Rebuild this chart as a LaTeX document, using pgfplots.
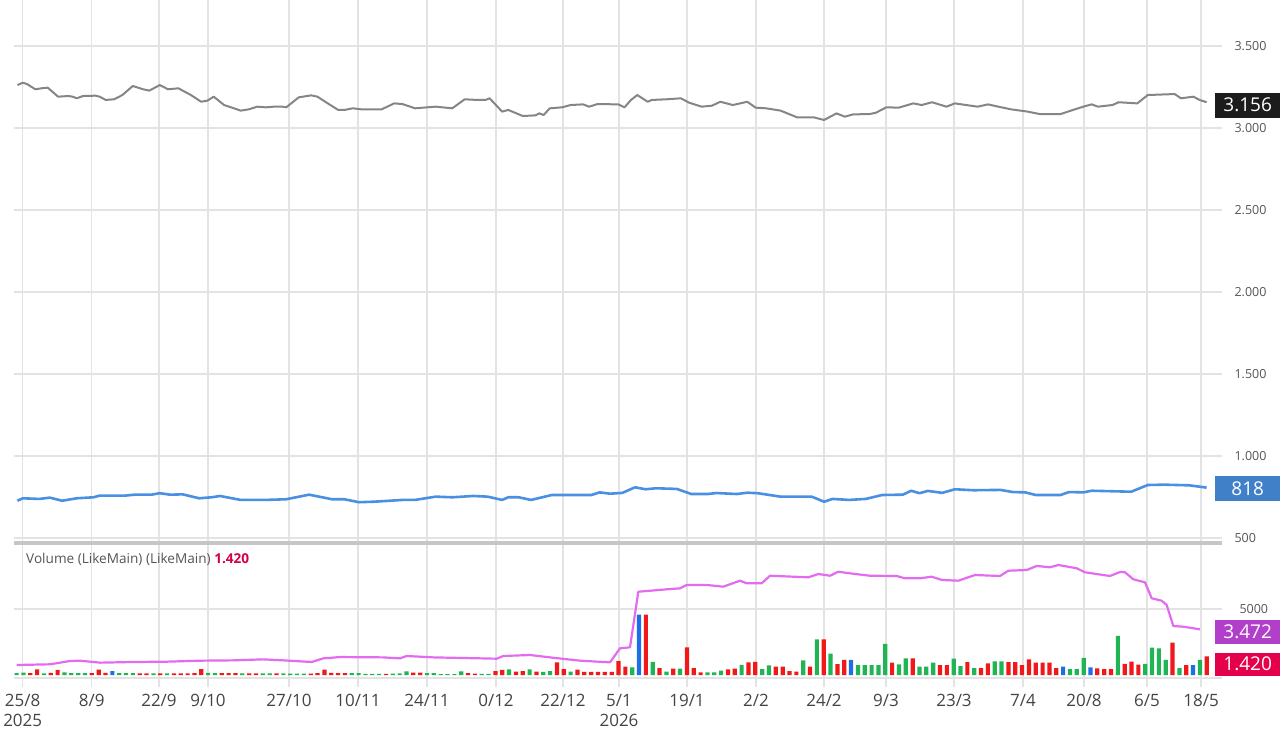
\documentclass[border=0pt]{standalone}
\usepackage{pgfplots}
\pgfplotsset{compat=1.18}
\usepackage{pgfplotstable}
\usepackage{fontspec}
\setmainfont{Open Sans}
\definecolor{gridc}{HTML}{E3E3E3}
\definecolor{sepc}{HTML}{C6C6C6}
\definecolor{pricegray}{HTML}{858585}
\definecolor{lineblue}{HTML}{4A90E2}
\definecolor{volpink}{HTML}{E36BF0}
\definecolor{vgreen}{HTML}{20B455}
\definecolor{vred}{HTML}{F01818}
\definecolor{vblue}{HTML}{1E6FE6}
\definecolor{boxblack}{HTML}{1C1C1C}
\definecolor{boxblue}{HTML}{3F80C8}
\definecolor{boxpurple}{HTML}{B13FC9}
\definecolor{boxred}{HTML}{E5004B}
\definecolor{labelred}{HTML}{D4004A}
\definecolor{tickc}{HTML}{555555}
\definecolor{xtc}{HTML}{444444}

\pgfplotstableread{
x v
17.4 3262
22.8 3276
27 3268
35.3 3236
41.5 3242
47.7 3246
58.1 3191
68.5 3195
72.6 3191
76.8 3181
83 3195
95.4 3197
99.6 3191
105.8 3171
114.1 3175
122.4 3201
132.8 3256
143.2 3236
149.4 3228
159.8 3262
168 3236
178.4 3242
190.9 3201
201.2 3160
207.5 3167
213.7 3191
224.1 3140
240.7 3106
249 3114
257.3 3130
265.6 3126
273.9 3130
282.2 3130
286.3 3126
298.8 3187
311.2 3199
317.4 3191
327.8 3150
338.2 3110
344.4 3110
352.7 3120
361 3114
381.7 3114
394.2 3150
402.5 3146
415 3120
435.7 3130
452.3 3120
464.7 3175
477.2 3171
485.5 3171
489.6 3181
502.1 3100
508.3 3110
522.8 3073
535.3 3077
539.4 3089
543.6 3079
549.8 3120
562.2 3126
570.5 3140
583 3144
589.2 3130
597.5 3146
618.3 3144
624.5 3126
631 3171
637.3 3201
647.7 3160
651.9 3171
666.4 3175
680.9 3181
689.2 3154
701.7 3130
712 3136
720.3 3160
732.8 3140
747.3 3160
755.6 3124
766 3120
780.5 3106
797.1 3065
813.7 3065
824.1 3049
836.5 3089
844.8 3069
853.1 3083
869.7 3085
875.9 3093
886.3 3126
898.8 3124
913.3 3150
921.6 3140
932 3157
946.5 3130
954.8 3150
977.6 3130
988 3144
998.3 3130
1010.8 3114
1027.4 3100
1039.8 3085
1060.6 3085
1073 3110
1085.5 3134
1091.7 3144
1097.9 3130
1112.4 3140
1118.7 3157
1137.3 3150
1147.7 3201
1174.7 3207
1180.9 3181
1193.4 3191
1199.6 3171
1206.6 3157
}\pricegray

\pgfplotstableread{
x v
17.4 727
22.8 742
39.4 738
49.8 746
62.2 727
76.8 742
93.4 748
99.6 758
124.5 758
134.9 764
151.5 764
159.8 773
170.1 764
182.6 766
199.2 742
211.6 748
219.9 756
240.7 732
265.6 732
286.3 736
309.1 764
332 736
344.4 736
358.9 718
373.4 721
390 727
402.5 732
415 732
435.7 752
452.3 748
473 756
487.6 752
502.1 732
508.3 748
518.7 748
531.1 732
551.9 762
568.5 762
591.3 762
599.6 778
610 770
622.4 775
635 809
645.6 797
656 803
676.8 799
691.3 768
707.9 768
716.2 774
736.9 768
747.3 776
757.7 773
780.5 752
811.6 752
824.1 721
832.4 738
849 732
865.6 738
882.2 762
902.9 764
911.2 788
919.5 773
927.8 787
942.3 775
954.8 797
973.4 791
1000.4 793
1012.9 780
1025.3 778
1035.7 762
1060.6 762
1068.9 780
1083.4 778
1091.7 788
1131.1 782
1137.3 797
1147.7 823
1164.3 825
1189.2 821
1206.6 807
}\priceblue

\pgfplotstableread{
x v
16.7 758
50 810
70 1060
80 1085
100 935
133.3 985
166.7 1010
200 1085
233.3 1110
263.3 1185
283.3 1110
311.7 985
323.3 1260
340 1360
383.3 1335
400 1260
406.7 1440
433.3 1335
496.7 1235
503.3 1440
530 1515
550 1335
580 1085
610 960
620 2020
630 2100
638.3 6310
666.7 6490
680 6565
686.7 6820
706.7 6820
723.3 6690
740 7145
746.7 6945
761.7 6945
770 7520
808.3 7400
818.3 7650
830 7520
838.3 7825
850 7700
870 7520
896.7 7500
905 7325
920 7325
931.7 7450
941.7 7200
958.3 7145
975 7575
1000 7500
1008.3 7900
1026.7 7955
1036.7 8260
1050 8160
1058.3 8335
1076.7 8085
1085 7780
1110 7500
1120 7805
1125 7780
1133.3 7250
1145 7020
1151.7 5810
1161.7 5630
1166.7 5300
1173.3 3710
1183.3 3660
1200 3460
}\volma

\pgfplotstableread{
i g r b
0 150 nan nan
1 180 nan nan
2 nan 150 nan
3 nan 420 nan
4 130 nan nan
5 nan 160 nan
6 nan 380 nan
7 200 nan nan
8 150 nan nan
9 150 nan nan
10 150 nan nan
11 nan 150 nan
12 nan 400 nan
13 nan 170 nan
14 nan nan 300
15 150 nan nan
16 150 nan nan
17 150 nan nan
18 nan 130 nan
19 nan 130 nan
20 130 nan nan
21 nan 130 nan
22 130 nan nan
23 nan 130 nan
24 nan 130 nan
25 nan 130 nan
26 nan 150 nan
27 nan 450 nan
28 160 nan nan
29 150 nan nan
30 nan 150 nan
31 nan 150 nan
32 nan 150 nan
33 130 nan nan
34 nan 130 nan
35 nan 130 nan
36 130 nan nan
37 130 nan nan
38 nan 130 nan
39 130 nan nan
40 100 nan nan
41 100 nan nan
42 100 nan nan
43 nan 100 nan
44 nan 150 nan
45 nan 400 nan
46 nan 170 nan
47 nan 150 nan
48 nan 150 nan
49 150 nan nan
50 150 nan nan
51 80 nan nan
52 80 nan nan
53 80 nan nan
54 nan 80 nan
55 100 nan nan
56 120 nan nan
57 280 nan nan
58 nan 180 nan
59 nan 180 nan
60 150 nan nan
61 150 nan nan
62 60 nan nan
63 60 nan nan
64 60 nan nan
65 280 nan nan
66 nan 150 nan
67 nan 100 nan
68 80 nan nan
69 80 nan nan
70 nan 300 nan
71 nan 380 nan
72 430 nan nan
73 nan 250 nan
74 nan 300 nan
75 430 nan nan
76 nan 250 nan
77 230 nan nan
78 300 nan nan
79 nan 960 nan
80 nan 455 nan
81 250 nan nan
82 nan 400 nan
83 nan 230 nan
84 nan 230 nan
85 nan 230 nan
86 nan 230 nan
87 nan 230 nan
88 nan 1060 nan
89 nan 630 nan
90 580 nan nan
91 nan nan 4575
92 nan 4575 nan
93 990 nan nan
94 nan 530 nan
95 250 nan nan
96 nan 480 nan
97 480 nan nan
98 nan 2100 nan
99 nan 530 nan
100 nan 200 nan
101 200 nan nan
102 200 nan nan
103 330 nan nan
104 nan 430 nan
105 nan 480 nan
106 760 nan nan
107 nan 960 nan
108 nan 990 nan
109 455 nan nan
110 730 nan nan
111 nan 630 nan
112 nan 630 nan
113 nan 300 nan
114 nan 250 nan
115 1110 nan nan
116 nan 630 nan
117 2700 nan nan
118 nan 2700 nan
119 1620 nan nan
120 nan 830 nan
121 nan 1140 nan
122 nan nan 1140
123 758 nan nan
124 758 nan nan
125 758 nan nan
126 758 nan nan
127 2350 nan nan
128 nan 934 nan
129 808 nan nan
130 1265 nan nan
131 nan 1265 nan
132 630 nan nan
133 630 nan nan
134 934 nan nan
135 nan 758 nan
136 nan 758 nan
137 1240 nan nan
138 680 nan nan
139 nan 985 nan
140 530 nan nan
141 nan 530 nan
142 nan 884 nan
143 1035 nan nan
144 1035 nan nan
145 nan 985 nan
146 nan 985 nan
147 nan 758 nan
148 nan 1190 nan
149 nan 934 nan
150 nan 934 nan
151 nan 934 nan
152 nan 530 nan
153 nan nan 630
154 455 nan nan
155 455 nan nan
156 1290 nan nan
157 nan nan 580
158 nan 505 nan
159 nan 455 nan
160 nan 455 nan
161 2960 nan nan
162 nan 834 nan
163 nan 1010 nan
164 nan 780 nan
165 834 nan nan
166 2070 nan nan
167 2020 nan nan
168 1140 nan nan
169 nan 2450 nan
170 530 nan nan
171 nan 758 nan
172 nan nan 758
173 1140 nan nan
174 nan 1420 nan
}\volbars

\begin{document}
\begin{tikzpicture}[x=1pt,y=1pt]
\useasboundingbox (0,0) rectangle (1285,729);
% ---------------- top price panel ----------------
\begin{axis}[
  at={(14pt,186pt)}, anchor=south west, scale only axis,
  width=1208pt, height=543pt,
  xmin=14, xmax=1222, ymin=469.3, ymax=3780.5,
  axis line style={draw=none},
  xtick={22.7,91.7,159,208,289,358,427,496,563,619,687,756,824,886,954,1023,1084,1147,1201},
  xticklabels={},
  ytick={500,1000,1500,2000,2500,3000,3500},
  yticklabels={500,1.000,1.500,2.000,2.500,3.000,3.500},
  yticklabel pos=right,
  y tick label style={font=\fontsize{12.5}{14}\selectfont, text=tickc, anchor=west, xshift=9pt},
  tick style={draw=none},
  grid=major, major grid style={draw=gridc, line width=1.2pt},
  clip=false,
]
\draw[sepc, line width=4pt] (rel axis cs:0,0) -- (rel axis cs:1,0);
\addplot[pricegray, line width=2pt, line join=round] table[x=x, y=v] {\pricegray};
\addplot[lineblue, line width=2.6pt, line join=round] table[x=x, y=v] {\priceblue};
\node[fill=boxblack, text=white, font=\fontsize{19}{20}\selectfont, minimum width=65pt, minimum height=25pt, inner sep=0pt, anchor=west] at (axis cs:1215,3140) {3.156};
\node[fill=boxblue, text=white, font=\fontsize{19}{20}\selectfont, minimum width=65pt, minimum height=25pt, inner sep=0pt, anchor=west] at (axis cs:1215,799) {818};
\end{axis}
% ---------------- bottom volume panel ----------------
\begin{axis}[
  at={(14pt,47pt)}, anchor=south west, scale only axis,
  width=1208pt, height=137pt,
  xmin=14, xmax=1222, ymin=-530, ymax=9848,
  axis line style={draw=none},
  xtick={22.7,91.7,159,208,289,358,427,496,563,619,687,756,824,886,954,1023,1084,1147,1201},
  xticklabels={{25/8\\2025},8/9,22/9,9/10,27/10,10/11,24/11,0/12,22/12,{5/1\\2026},19/1,2/2,24/2,9/3,23/3,7/4,20/8,6/5,18/5},
  x tick label style={font=\fontsize{17}{20}\selectfont, text=xtc, align=center, anchor=north, yshift=-4pt},
  xtick pos=bottom, tick align=outside, major tick length=5pt,
  xtick style={draw=gridc, line width=1.2pt},
  ytick={-230,5000},
  yticklabels={{},5000},
  yticklabel pos=right,
  y tick label style={font=\fontsize{12.5}{14}\selectfont, text=tickc, anchor=west, xshift=9pt},
  ytick style={draw=none},
  grid=major, major grid style={draw=gridc, line width=1.2pt},
  clip=false,
]
\addplot[ybar, bar width=4.2pt, bar shift=0pt, fill=vgreen, draw=none] table[x expr=16.6+6.84*\thisrow{i}, y=g] {\volbars};
\addplot[ybar, bar width=4.2pt, bar shift=0pt, fill=vred, draw=none] table[x expr=16.6+6.84*\thisrow{i}, y=r] {\volbars};
\addplot[ybar, bar width=4.2pt, bar shift=0pt, fill=vblue, draw=none] table[x expr=16.6+6.84*\thisrow{i}, y=b] {\volbars};
\addplot[volpink, line width=2.2pt, line join=round] table[x=x, y=v] {\volma};
\node[anchor=west, inner sep=0pt, font=\fontsize{13.6}{15}\selectfont, text=tickc] at (axis cs:26,8788) {Volume (LikeMain) (LikeMain) \textcolor{labelred}{\bfseries 1.420}};
\node[fill=boxpurple, text=white, font=\fontsize{19}{20}\selectfont, minimum width=65pt, minimum height=24pt, inner sep=0pt, anchor=west] at (axis cs:1215,3258) {3.472};
\node[fill=boxred, text=white, font=\fontsize{19}{20}\selectfont, minimum width=65pt, minimum height=23pt, inner sep=0pt, anchor=west] at (axis cs:1215,833) {1.420};
\end{axis}
\end{tikzpicture}
\end{document}
